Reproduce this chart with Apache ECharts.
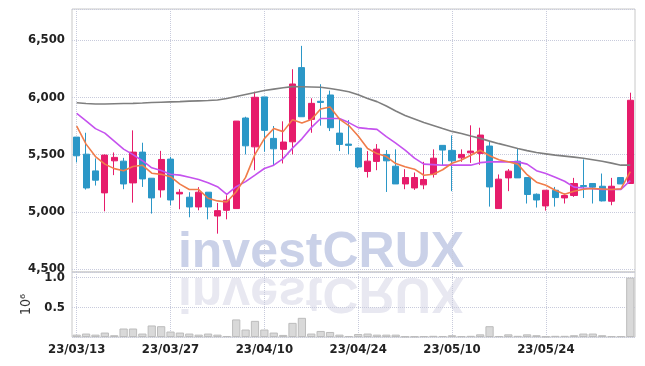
<!DOCTYPE html>
<html>
<head>
<meta charset="utf-8">
<script src="https://cdn.jsdelivr.net/npm/echarts/dist/echarts.min.js"></script>
<style>
  html, body { margin: 0; padding: 0; background: #fff; }
  #chart { width: 645px; height: 366px; }
</style>
</head>
<body>
<div id="chart"></div>
<script>
// trading days
var dates = [
  '23/03/13','23/03/14','23/03/15','23/03/16','23/03/17','23/03/20','23/03/21','23/03/22','23/03/23','23/03/24',
  '23/03/27','23/03/28','23/03/29','23/03/30','23/03/31','23/04/03','23/04/04','23/04/05','23/04/06','23/04/07',
  '23/04/10','23/04/11','23/04/12','23/04/13','23/04/14','23/04/17','23/04/18','23/04/19','23/04/20','23/04/21',
  '23/04/24','23/04/25','23/04/26','23/04/27','23/04/28','23/05/02','23/05/03','23/05/04','23/05/08','23/05/09',
  '23/05/10','23/05/11','23/05/12','23/05/15','23/05/16','23/05/17','23/05/18','23/05/19','23/05/22','23/05/23',
  '23/05/24','23/05/25','23/05/26','23/05/30','23/05/31','23/06/01','23/06/02','23/06/05','23/06/07','23/06/08'
];

var open = [
  5652,5503,5357,5165,5445,5442,5252,5521,5293,5191,
  5460,5156,5127,5042,5171,4963,5013,5028,5819,5567,
  6003,5641,5545,5611,6259,5807,5965,6020,5687,5591,
  5556,5352,5440,5501,5398,5243,5208,5235,5328,5580,
  5536,5471,5515,5510,5574,5028,5296,5442,5299,5153,
  5051,5188,5121,5142,5229,5247,5223,5092,5299,5247
];
var close = [
  5489,5208,5276,5495,5475,5243,5521,5287,5121,5457,
  5103,5170,5042,5171,5042,5010,5101,5792,5576,6000,
  5711,5550,5609,6116,5830,5947,5955,5734,5588,5580,
  5392,5442,5547,5445,5243,5299,5299,5282,5468,5539,
  5445,5501,5530,5670,5217,5285,5355,5296,5151,5103,
  5188,5124,5142,5247,5220,5215,5095,5223,5243,5974
];
var low = [
  5431,5194,5229,5004,5320,5197,5080,5217,4984,5124,
  5057,5022,4952,5013,4934,4809,4934,5028,5501,5363,
  5524,5401,5422,5501,5830,5690,5752,5705,5530,5503,
  5380,5299,5363,5173,5243,5197,5191,5197,5299,5405,
  5180,5436,5427,5410,5045,5028,5180,5296,5072,5037,
  5010,5045,5072,5130,5120,5072,5090,5057,5243,5247
];
var high = [
  5652,5690,5466,5500,5518,5471,5711,5603,5293,5532,
  5480,5197,5171,5215,5171,5077,5144,5792,5830,6049,
  6003,5749,5790,6245,6449,5991,6114,6058,5801,5801,
  5560,5530,5591,5539,5545,5372,5343,5436,5545,5580,
  5667,5545,5755,5734,5611,5326,5373,5553,5299,5160,
  5188,5217,5160,5296,5457,5247,5334,5296,5299,6040
];

// moving averages
var ma5 = [
  5749,5591,5482,5416,5377,5359,5396,5407,5337,5327,
  5306,5241,5194,5194,5118,5095,5086,5175,5300,5501,
  5639,5728,5700,5804,5776,5805,5897,5915,5810,5753,
  5661,5552,5508,5482,5421,5394,5372,5319,5328,5367,
  5424,5453,5493,5537,5489,5455,5437,5416,5324,5258,
  5232,5188,5153,5180,5197,5203,5199,5194,5201,5350
];
var ma20 = [
  5859,5794,5726,5687,5617,5547,5499,5446,5384,5361,
  5328,5320,5302,5282,5254,5219,5153,5219,5263,5320,
  5378,5407,5464,5556,5637,5735,5815,5815,5815,5779,
  5735,5726,5720,5657,5600,5539,5468,5416,5412,5407,
  5407,5407,5407,5429,5436,5436,5436,5436,5416,5359,
  5335,5302,5267,5215,5208,5202,5195,5195,5195,5272
];
var ma60 = [
  5952,5946,5941,5941,5944,5946,5947,5950,5954,5957,
  5960,5962,5966,5969,5972,5976,5989,6007,6025,6042,
  6059,6071,6083,6093,6092,6090,6088,6077,6064,6049,
  6023,5990,5962,5924,5880,5841,5810,5779,5753,5727,
  5702,5683,5661,5641,5617,5595,5574,5553,5534,5517,
  5506,5495,5486,5477,5468,5455,5442,5425,5407,5407
];

// volume in 10^6
var volume = [
  0.04,0.058,0.04,0.075,0.03,0.143,0.143,0.058,0.194,0.182,
  0.092,0.075,0.058,0.04,0.058,0.04,0.017,0.296,0.126,0.272,
  0.126,0.075,0.035,0.238,0.323,0.058,0.102,0.085,0.04,0.017,
  0.05,0.058,0.04,0.04,0.04,0.01,0.01,0.015,0.02,0.017,
  0.03,0.015,0.02,0.045,0.182,0.017,0.045,0.02,0.045,0.03,
  0.01,0.02,0.02,0.03,0.058,0.058,0.03,0.015,0.015,1.0
];

var candles = [];
for (var i = 0; i < dates.length; i++) {
  candles.push([open[i], close[i], low[i], high[i]]);
}

var labelFont = '"DejaVu Sans Condensed", sans-serif';
var gridLine = { show: true, lineStyle: { color: '#c8cbdc', type: 'dotted', width: 1 } };
var markFont = 'bold 50px "Liberation Sans", sans-serif';

var chart = echarts.init(document.getElementById('chart'), null, { renderer: 'canvas' });

chart.setOption({
  animation: false,
  backgroundColor: '#fff',
  graphic: [
    {
      type: 'text', x: 321, y: 278, z: -1, silent: true,
      style: { text: 'investCRUX', font: markFont, fill: '#cad1e8', align: 'center', verticalAlign: 'bottom' }
    },
    {
      type: 'text', x: 321, y: 267, scaleY: -1, z: -1, silent: true,
      style: { text: 'investCRUX', font: markFont, fill: '#e8e8f1', align: 'center', verticalAlign: 'bottom' }
    }
  ],
  grid: [
    { left: 72, right: 10, top: 9, height: 263, show: true, borderColor: '#c8c8c8', borderWidth: 1 },
    { left: 72, right: 10, top: 272, height: 65, show: true, borderColor: '#c8c8c8', borderWidth: 1 }
  ],
  xAxis: [
    {
      type: 'category', gridIndex: 0, data: dates, boundaryGap: true,
      axisLine: { show: false }, axisTick: { show: false }, axisLabel: { show: false },
      splitLine: { show: true, interval: 9, alignWithLabel: true, lineStyle: gridLine.lineStyle }
    },
    {
      type: 'category', gridIndex: 1, data: dates, boundaryGap: true,
      axisLine: { show: false }, axisTick: { show: false },
      axisLabel: { interval: 9, color: '#222', fontFamily: labelFont, fontWeight: 'bold', fontSize: 13, margin: 6 },
      splitLine: { show: true, interval: 9, alignWithLabel: true, lineStyle: gridLine.lineStyle }
    }
  ],
  yAxis: [
    {
      type: 'value', gridIndex: 0, min: 4474, max: 6771,
      axisLine: { show: false }, axisTick: { show: false },
      axisLabel: {
        color: '#222', fontFamily: labelFont, fontWeight: 'bold', fontSize: 13, margin: 7,
        formatter: function (v) {
          if (v % 500 !== 0) return '';
          return v.toLocaleString('en-US');
        }
      },
      splitLine: gridLine
    },
    {
      type: 'value', gridIndex: 1, min: 0, max: 1.095, splitNumber: 2,
      name: '10\u2076', nameLocation: 'middle', nameRotate: 90, nameGap: 36,
      nameTextStyle: { color: '#333', fontFamily: labelFont, fontSize: 14 },
      axisLine: { show: false }, axisTick: { show: false },
      axisLabel: {
        color: '#222', fontFamily: labelFont, fontWeight: 'bold', fontSize: 13, margin: 7,
        formatter: function (v) {
          if (v === 0.5 || v === 1) return v.toFixed(1);
          return '';
        }
      },
      splitLine: gridLine
    }
  ],
  series: [
    {
      name: 'price', type: 'candlestick', xAxisIndex: 0, yAxisIndex: 0,
      data: candles, barWidth: '70%',
      itemStyle: { color: '#e61c6b', color0: '#2b97c7', borderColor: '#e61c6b', borderColor0: '#2b97c7', borderWidth: 1 }
    },
    {
      name: 'MA60', type: 'line', data: ma60, symbol: 'none',
      lineStyle: { color: '#7f7f7f', width: 1.6 }
    },
    {
      name: 'MA20', type: 'line', data: ma20, symbol: 'none',
      lineStyle: { color: '#c552ee', width: 1.6 }
    },
    {
      name: 'MA5', type: 'line', data: ma5, symbol: 'none',
      lineStyle: { color: '#f07c4a', width: 1.6 }
    },
    {
      name: 'volume', type: 'bar', xAxisIndex: 1, yAxisIndex: 1,
      data: volume, barWidth: '88%',
      itemStyle: { color: '#d9d9d9', borderColor: '#bcbcbc', borderWidth: 1 }
    }
  ]
});
</script>
</body>
</html>
